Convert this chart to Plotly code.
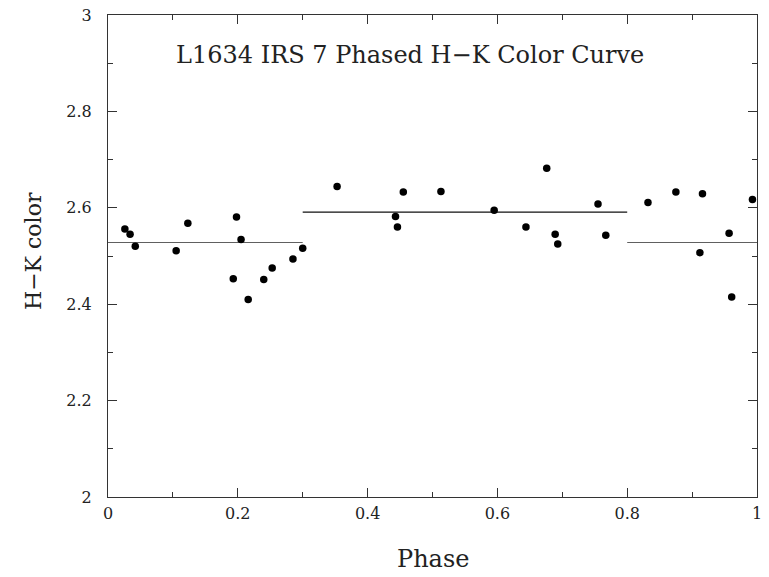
import plotly.graph_objects as go

phase = [0.026, 0.034, 0.042, 0.105, 0.123, 0.193, 0.198, 0.205, 0.216, 0.240,
         0.253, 0.285, 0.300, 0.353, 0.443, 0.446, 0.455, 0.513, 0.595, 0.644,
         0.676, 0.689, 0.693, 0.755, 0.767, 0.832, 0.875, 0.912, 0.916, 0.957,
         0.961, 0.993]
hk_color = [2.556, 2.545, 2.520, 2.511, 2.568, 2.453, 2.581, 2.534, 2.410, 2.451,
            2.475, 2.494, 2.516, 2.644, 2.582, 2.560, 2.633, 2.634, 2.595, 2.560,
            2.682, 2.545, 2.525, 2.608, 2.543, 2.611, 2.633, 2.507, 2.629, 2.547,
            2.415, 2.617]

seg_x = [[0.0, 0.3], [0.3, 0.8], [0.8, 1.0]]
seg_y = [2.528, 2.591, 2.528]
seg_colors = ["#606060", "#111111", "#606060"]

x_ticks = [0, 0.2, 0.4, 0.6, 0.8, 1]
x_tick_labels = ["0", "0.2", "0.4", "0.6", "0.8", "1"]
y_ticks = [2, 2.2, 2.4, 2.6, 2.8, 3]
y_tick_labels = ["2", "2.2", "2.4", "2.6", "2.8", "3"]

title_text = "L1634 IRS 7 Phased H\u2212K Color Curve"
x_title = "Phase"
y_title = "H\u2212K color"
font_family = "DejaVu Serif, Liberation Serif, serif"
text_color = "#222222"

fig = go.Figure()
for xs, yv, c in zip(seg_x, seg_y, seg_colors):
    fig.add_trace(go.Scatter(x=xs, y=[yv, yv], mode="lines",
                             line=dict(color=c, width=1.2), showlegend=False,
                             hoverinfo="skip"))
fig.add_trace(go.Scatter(x=phase, y=hk_color, mode="markers",
                         marker=dict(color="black", size=7.5), showlegend=False))

axis_common = dict(
    showgrid=False, zeroline=False, showline=True, linecolor="#333333",
    linewidth=1, mirror="allticks", ticks="inside", ticklen=9, tickwidth=1,
    tickcolor="#333333", tickfont=dict(family=font_family, size=16, color=text_color),
    automargin=False,
)

fig.update_xaxes(range=[0, 1], tickvals=x_ticks, ticktext=x_tick_labels,
                 minor=dict(dtick=0.1, ticks="inside", ticklen=5, tickcolor="#333333",
                            showgrid=False),
                 ticklabelstandoff=2,
                 **axis_common)
fig.update_yaxes(range=[2, 3], tickvals=y_ticks, ticktext=y_tick_labels,
                 minor=dict(dtick=0.1, ticks="inside", ticklen=5, tickcolor="#333333",
                            showgrid=False),
                 ticklabelstandoff=12,
                 **axis_common)

plot_h = 577 - 15 - 80
plot_w = 769 - 108 - 12

fig.add_annotation(text=title_text, x=0.466, y=2.916, xref="x", yref="y",
                   showarrow=False, xanchor="center", yanchor="middle",
                   font=dict(family=font_family, size=24, color=text_color))
fig.add_annotation(text=x_title, x=0.5, y=(497 - 559) / plot_h, xref="paper", yref="paper",
                   showarrow=False, xanchor="center", yanchor="middle",
                   font=dict(family=font_family, size=24, color=text_color))
fig.add_annotation(text=y_title, x=(33 - 108) / plot_w, y=(497 - 251) / plot_h,
                   xref="paper", yref="paper",
                   showarrow=False, xanchor="center", yanchor="middle", textangle=-90,
                   font=dict(family=font_family, size=22, color=text_color))

fig.update_layout(width=769, height=577, plot_bgcolor="white", paper_bgcolor="white",
                  margin=dict(l=108, r=12, t=15, b=80))

fig.write_html("out.html", config={"displayModeBar": False},
               post_script="document.body.style.margin='0';document.body.style.overflow='hidden';")
